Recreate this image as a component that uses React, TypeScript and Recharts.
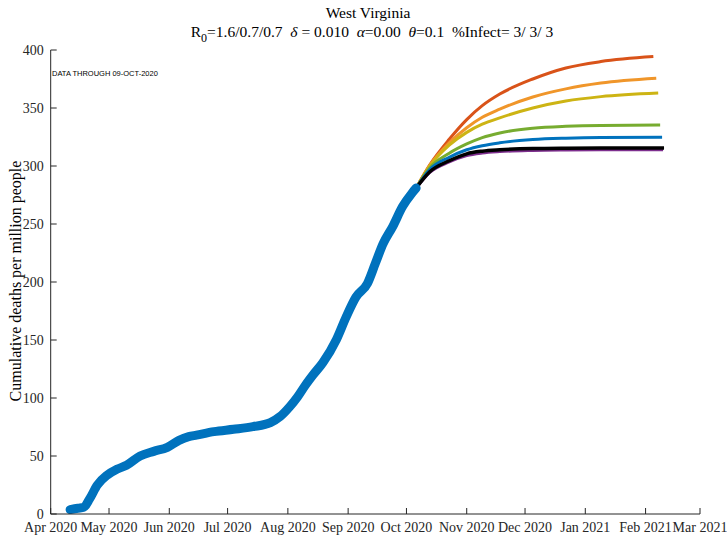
import { LineChart, Line, XAxis, YAxis } from "recharts";

// x axis: days since 1 Apr 2020
const monthTicks = [0, 30, 61, 91, 122, 153, 183, 214, 244, 275, 306, 334];
const monthLabels = [
  "Apr 2020", "May 2020", "Jun 2020", "Jul 2020", "Aug 2020", "Sep 2020",
  "Oct 2020", "Nov 2020", "Dec 2020", "Jan 2021", "Feb 2021", "Mar 2021",
];
const deathTicks = [0, 50, 100, 150, 200, 250, 300, 350, 400];

// observed cumulative deaths per million
const obsDays = [
  10, 14, 17, 20, 24, 29, 34, 39, 46, 53, 60, 66, 71, 75, 84, 94, 104, 113,
  118, 123, 127, 131, 135, 140, 147, 152, 157, 163, 167, 171, 176, 181, 186, 188,
];
const obsDeaths = [
  3.8, 5, 5.8, 13, 25, 33.5, 38.5, 42, 50, 54, 57.5, 63.5, 66.7, 68, 71, 73, 75.3, 78.8,
  84, 92.6, 101, 111, 120, 130.5, 150.5, 170, 187, 199, 216, 233, 248, 265, 277, 281,
];

// projections (same days, each series has its own last day)
const projDays = [188, 195, 205, 214, 222, 231, 248, 265, 283];
const redProj = [281, 301, 323, 340, 352, 362, 375, 384.5, 390, 394.3];
const orangeProj = [281, 300.5, 320, 333, 342, 349, 359.5, 366.5, 371.5, 375.6];
const yellowProj = [281, 300, 318, 329, 336, 341.5, 350, 356, 359.8, 362.9];
const greenProj = [281, 298.5, 311, 319, 324.5, 328.5, 332.5, 334.2, 335, 335.3];
const blueProj = [281, 297, 307.5, 314, 317.5, 320, 322.8, 324, 324.6, 324.8];
const purpleProj = [281, 294.5, 303.5, 309, 311.2, 312.4, 313.4, 313.8, 314, 314];
const blackProj = [281, 295, 304.5, 310.5, 312.8, 314, 315.1, 315.4, 315.5, 315.5];
const projEndDays = [310, 311.5, 312.5, 313.5, 314.5, 315, 315.5];

const AXIS = "#262626";
const SERIF = "'Liberation Serif', 'Times New Roman', serif";

const obsData = obsDays.map((d, i) => ({ day: d, v: obsDeaths[i] }));

const projSeries = [
  { key: "red", color: "#D95319", vals: redProj, end: projEndDays[0], w: 3 },
  { key: "orange", color: "#F0962A", vals: orangeProj, end: projEndDays[1], w: 3 },
  { key: "yellow", color: "#CDB414", vals: yellowProj, end: projEndDays[2], w: 3 },
  { key: "green", color: "#77AC30", vals: greenProj, end: projEndDays[3], w: 3 },
  { key: "blue", color: "#0072BD", vals: blueProj, end: projEndDays[4], w: 3 },
  { key: "purple", color: "#7E2F8E", vals: purpleProj, end: projEndDays[5], w: 3 },
  { key: "black", color: "#000000", vals: blackProj, end: projEndDays[6], w: 3.5 },
].map((s) => ({
  ...s,
  data: [...projDays, s.end].map((d, i) => ({ day: d, v: s.vals[i] })),
}));

const XTick = (props: any) => {
  const { x, y, payload } = props;
  const idx = monthTicks.indexOf(payload.value);
  return (
    <g>
      <line x1={x} y1={y} x2={x} y2={y - 6} stroke={AXIS} />
      <text x={x} y={y + 18} textAnchor="middle" fontFamily={SERIF} fontSize={14} fill={AXIS}>
        {monthLabels[idx]}
      </text>
    </g>
  );
};

const YTick = (props: any) => {
  const { x, y, payload } = props;
  return (
    <g>
      <line x1={x} y1={y} x2={x + 6} y2={y} stroke={AXIS} />
      <text x={x - 7} y={y + 5} textAnchor="end" fontFamily={SERIF} fontSize={14} fill={AXIS}>
        {payload.value}
      </text>
    </g>
  );
};

export default function App() {
  return (
    <div style={{ position: "absolute", left: 0, top: 0, width: 727, height: 535, background: "#fff" }}>
      <LineChart
        width={727}
        height={535}
        margin={{ top: 50, right: 27, bottom: 0, left: 0 }}
      >
        <XAxis
          dataKey="day"
          type="number"
          domain={[0, 334]}
          ticks={monthTicks}
          interval={0}
          height={21}
          tickSize={0}
          tickMargin={0}
          tickLine={false}
          axisLine={{ stroke: AXIS }}
          tick={XTick}
          allowDataOverflow
        />
        <YAxis
          type="number"
          domain={[0, 400]}
          ticks={deathTicks}
          interval={0}
          width={50.7}
          tickSize={0}
          tickMargin={0}
          tickLine={false}
          axisLine={{ stroke: AXIS }}
          tick={YTick}
          allowDataOverflow
        />
        {projSeries.map((s) => (
          <Line
            key={s.key}
            data={s.data}
            dataKey="v"
            type="monotone"
            stroke={s.color}
            strokeWidth={s.w}
            dot={false}
            isAnimationActive={false}
          />
        ))}
        <Line
          data={obsData}
          dataKey="v"
          type="monotone"
          stroke="#0072BD"
          strokeWidth={9}
          strokeLinecap="round"
          strokeLinejoin="round"
          dot={false}
          isAnimationActive={false}
        />
        <text x={368} y={18} textAnchor="middle" fontFamily={SERIF} fontSize={15.5} fill="#000">
          West Virginia
        </text>
        <text
          x={372}
          y={37}
          textAnchor="middle"
          fontFamily={SERIF}
          fontSize={15.5}
          fill="#000"
          style={{ whiteSpace: "pre" }}
        >
          <tspan>R</tspan>
          <tspan dy={5} fontSize={12}>0</tspan>
          <tspan dy={-5}>{"=1.6/0.7/0.7  "}</tspan>
          <tspan fontStyle="italic">δ</tspan>
          <tspan>{" = 0.010  "}</tspan>
          <tspan fontStyle="italic">α</tspan>
          <tspan>{"=0.00  "}</tspan>
          <tspan fontStyle="italic">θ</tspan>
          <tspan>{"=0.1  %Infect= 3/ 3/ 3"}</tspan>
        </text>
        <text x={52} y={76} fontFamily="'Liberation Sans', Arial, sans-serif" fontSize={7.5} fill="#000">
          DATA THROUGH 09-OCT-2020
        </text>
        <text
          x={17}
          y={281}
          transform="rotate(-90 17 281)"
          textAnchor="middle"
          dominantBaseline="middle"
          fontFamily={SERIF}
          fontSize={16}
          fill="#000"
        >
          Cumulative deaths per million people
        </text>
      </LineChart>
    </div>
  );
}
